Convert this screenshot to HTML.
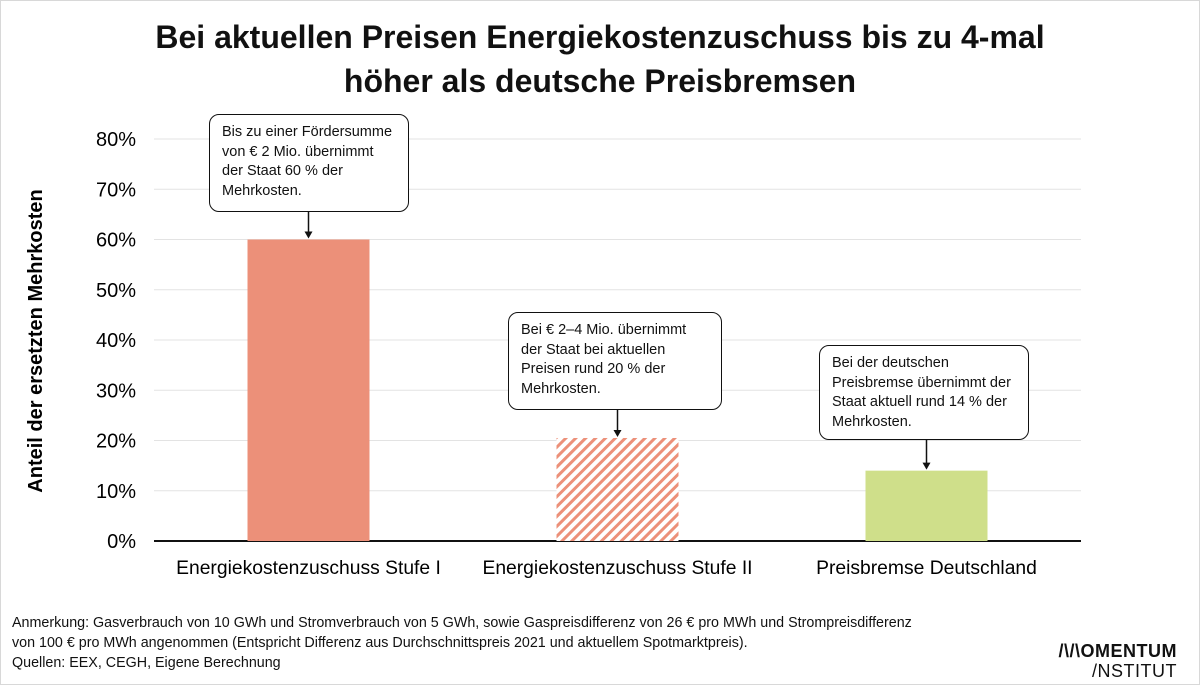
<!DOCTYPE html>
<html><head><meta charset="utf-8"><style>
body{margin:0;background:#fff;}
#wrap{position:relative;width:1198px;height:683px;border:1px solid #d8d8d8;font-family:"Liberation Sans",sans-serif;color:#111;overflow:hidden;}
.title{position:absolute;left:0;width:1198px;top:14px;text-align:center;font-size:32px;line-height:44px;font-weight:bold;}
.box{position:absolute;border:1.5px solid #111;border-radius:10px;background:#fff;font-size:14.5px;line-height:19.5px;padding:8px 12px;box-sizing:border-box;white-space:nowrap;}
.note{position:absolute;left:11px;top:612px;font-size:14.3px;line-height:20px;white-space:nowrap;}
.logo{position:absolute;right:22px;top:640px;text-align:right;font-size:18px;line-height:20px;letter-spacing:0.5px;}
</style></head><body>
<div id="wrap">
<div class="title">Bei aktuellen Preisen Energiekostenzuschuss bis zu 4-mal<br>höher als deutsche Preisbremsen</div>
<svg id="chart" width="1198" height="683" style="position:absolute;left:0;top:0">
<defs><pattern id="hatch" patternUnits="userSpaceOnUse" width="7" height="7" patternTransform="rotate(45)"><rect width="7" height="7" fill="#fff"/><rect width="3" height="7" fill="#ec9079"/></pattern></defs>
<g id="grid"></g><g id="bars"></g><g id="labels"></g>
<text transform="translate(41,340) rotate(-90)" text-anchor="middle" font-size="20" font-weight="bold" font-family="Liberation Sans, sans-serif">Anteil der ersetzten Mehrkosten</text>
</svg>
<div class="box" style="left:208px;top:113px;width:200px;height:98px;">Bis zu einer Fördersumme<br>von € 2 Mio. übernimmt<br>der Staat 60 % der<br>Mehrkosten.</div>
<div class="box" style="left:507px;top:311px;width:214px;height:98px;">Bei € 2–4 Mio. übernimmt<br>der Staat bei aktuellen<br>Preisen rund 20 % der<br>Mehrkosten.</div>
<div class="box" style="left:818px;top:344px;width:210px;height:95px;">Bei der deutschen<br>Preisbremse übernimmt der<br>Staat aktuell rund 14 % der<br>Mehrkosten.</div>
<div class="note">Anmerkung: Gasverbrauch von 10 GWh und Stromverbrauch von 5 GWh, sowie Gaspreisdifferenz von 26 € pro MWh und Strompreisdifferenz<br>von 100 € pro MWh angenommen (Entspricht Differenz aus Durchschnittspreis 2021 und aktuellem Spotmarktpreis).<br>Quellen: EEX, CEGH, Eigene Berechnung</div>
<div class="logo"><b>/\/\OMENTUM</b><br>/NSTITUT</div>
</div>
<script>
const categories=["Energiekostenzuschuss Stufe I","Energiekostenzuschuss Stufe II","Preisbremse Deutschland"];
const values=[60,20.5,14];
const fills=["#ec9079","url(#hatch)","#cfdf8a"];
const ticks=[0,10,20,30,40,50,60,70,80];
const NS="http://www.w3.org/2000/svg";
const x0=153,x1=1080,y0=540,yTop=138,vmax=80;
const y=v=>y0-(y0-yTop)*v/vmax;
const band=(x1-x0)/categories.length, bw=122;
const g=document.getElementById('grid'),b=document.getElementById('bars'),l=document.getElementById('labels');
function mk(tag,attrs,parent){const e=document.createElementNS(NS,tag);for(const k in attrs)e.setAttribute(k,attrs[k]);parent.appendChild(e);return e;}
ticks.forEach(t=>{
 const ln=mk('line',{x1:x0,x2:x1,y1:y(t),y2:y(t),stroke:t===0?'#111':'#e3e3e3','stroke-width':t===0?2:1},g);
 
 
 const tx=mk('text',{x:135,y:y(t)+7,'text-anchor':'end','font-size':20,'font-family':'Liberation Sans, sans-serif'},l);
 tx.textContent=t+'%';
 
 
});
categories.forEach((c,i)=>{
 const cx=x0+band*(i+0.5);
 const r=mk('rect',{x:cx-bw/2,y:y(values[i]),width:bw,height:y0-y(values[i]),fill:fills[i]},b);
 
 
 const tx=mk('text',{x:cx,y:573,'text-anchor':'middle','font-size':19.3,'font-family':'Liberation Sans, sans-serif'},l);
 tx.textContent=c;
 
 
 const topBox=[211,409,439][i];
 const ar=mk('line',{x1:cx,x2:cx,y1:topBox,y2:y(values[i])-6,stroke:'#111','stroke-width':1.5},l);
 
 
 const hd=mk('path',{d:`M${cx-4},${y(values[i])-8} L${cx+4},${y(values[i])-8} L${cx},${y(values[i])-1} Z`,fill:'#111'},l);
 
 
});
</script>
</body></html>
